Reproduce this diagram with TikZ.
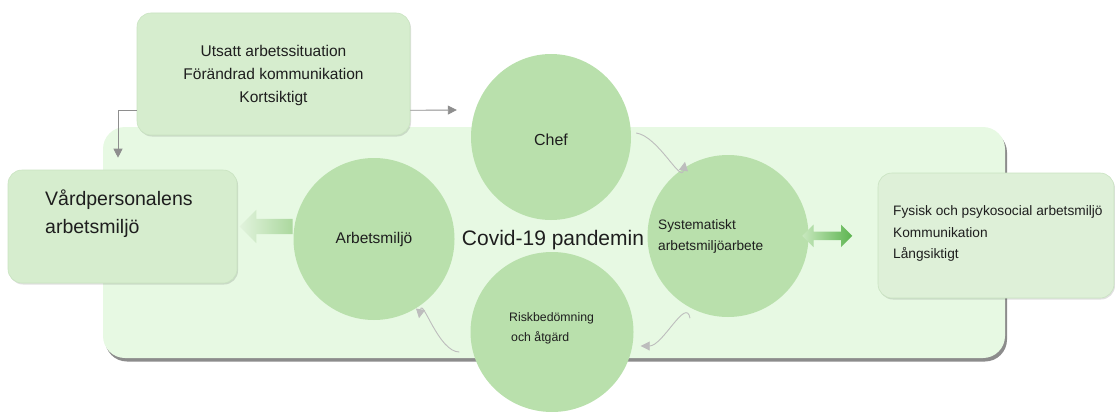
\documentclass[tikz,border=0pt]{standalone}
\usepackage{fontspec}
\setmainfont{Liberation Sans}
\usetikzlibrary{shapes.geometric,shapes.arrows,shadows,arrows.meta,calc}
\definecolor{bgc}{HTML}{E7F9E3}
\definecolor{boxc}{HTML}{D6EDCE}
\definecolor{boxline}{HTML}{C9E3C1}
\definecolor{rboxc}{HTML}{DEF0D8}
\definecolor{circc}{HTML}{B9E0AC}
\definecolor{txt}{HTML}{1E1E1E}
\definecolor{arrg}{HTML}{8E8E8E}
\definecolor{curg}{HTML}{BDBDBD}
\definecolor{fatlight}{HTML}{E2F3DD}
\definecolor{fatdark}{HTML}{ABD89E}
\definecolor{dbllight}{HTML}{C8E8BE}
\definecolor{dbldark}{HTML}{5CB44F}
\tikzset{
  panel/.style={draw=none, fill=bgc, rounded corners=22pt, inner sep=0pt,
    drop shadow={shadow xshift=2pt, shadow yshift=-3.5pt, fill=black, opacity=0.45}},
  gbox/.style={draw=boxline, line width=0.6pt, fill=boxc, rounded corners=14pt, inner sep=0pt,
    drop shadow={shadow xshift=1pt, shadow yshift=-1.5pt, fill=black, opacity=0.12}},
  bubble/.style={ellipse, fill=circc, draw=none, inner sep=0pt},
  lbl/.style={text=txt, inner sep=0pt},
  garr/.style={draw=arrg, line width=0.9pt, -{Triangle[length=9pt,width=9pt]}},
  carr/.style={draw=curg, line width=0.9pt, -{Triangle[length=9pt,width=9pt]}},
}
\begin{document}
\begin{tikzpicture}[x=1pt,y=-1pt]
\useasboundingbox (0,0) rectangle (1115,412);
% background panel
\node[panel, minimum width=902pt, minimum height=231pt] (bg) at (554,242.5) {};
% boxes
\node[gbox, minimum width=273pt, minimum height=122pt] (top) at (273.5,74) {};
\node[lbl, align=center, font=\fontsize{15.5}{23}\selectfont] (toptxt) at (273.5,75)
  {Utsatt arbetssituation\\Förändrad kommunikation\\Kortsiktigt};
\node[gbox, minimum width=229pt, minimum height=113pt] (vard) at (122.5,226.5) {};
\node[lbl, anchor=west, align=left, font=\fontsize{19.5}{28}\selectfont] (vardtxt) at (45,214)
  {Vårdpersonalens\\arbetsmiljö};
\node[gbox, fill=rboxc, minimum width=236pt, minimum height=125pt] (res) at (996,235.5) {};
\node[lbl, anchor=west, align=left, font=\fontsize{13.7}{21.5}\selectfont] (restxt) at (893,233.5)
  {Fysisk och psykosocial arbetsmiljö\\Kommunikation\\Långsiktigt};
% circles
\node[bubble, minimum width=160pt, minimum height=166pt] (chef) at (551,137) {};
\node[bubble, minimum width=161pt, minimum height=162pt] (arbc) at (374,239) {};
\node[bubble, minimum width=161pt, minimum height=162pt] (sys) at (728,236) {};
\node[bubble, minimum width=163pt, minimum height=160pt] (risk) at (552,332) {};
% circle texts
\node[lbl, font=\fontsize{16}{18}\selectfont] (cheftxt) at (551,140) {Chef};
\node[lbl, font=\fontsize{15.5}{18}\selectfont] (arbtxt) at (374,239) {Arbetsmiljö};
\node[lbl, anchor=west, align=left, font=\fontsize{13.7}{21}\selectfont] (systxt) at (658,236.5)
  {Systematiskt\\arbetsmiljöarbete};
\node[lbl, anchor=west, align=left, font=\fontsize{12.3}{20}\selectfont] (risktxt) at (509,328)
  {Riskbedömning\\\hspace*{2pt}och åtgärd};
\node[lbl, font=\fontsize{21}{24}\selectfont] (covid) at (553,240) {Covid-19 pandemin};
% gray elbow arrows
\draw[garr] ($(top.south west)+(0,-25)$) -| ($(vard.north)+(-4.5,-12)$);
\draw[garr] ($(top.south east)+(0,-25)$) -- ($(chef.west)+(-14,-27)$);
% curved cycle arrows
\draw[carr] ($(chef.east)+(5,-4)$) to[out=-8,in=-100] ($(sys.north)+(-43,7)$);
\draw[carr] ($(sys.south)+(-38,1)$) to[out=100,in=0] ($(risk.east)+(7,14)$);
\draw[carr] ($(risk.west)+(-11,20)$) to[out=180,in=80] ($(arbc.south)+(45,-2)$);
% fat arrows
\node[single arrow, shape border rotate=180, inner sep=7.5pt, single arrow head extend=9pt,
      minimum height=53pt, left color=fatlight, right color=fatdark, draw=none, anchor=tip]
      (fat) at ($(vard.east)+(2,0)$) {};
\node[double arrow, inner sep=4pt, double arrow head extend=7pt, minimum height=50pt,
      left color=dbllight, right color=dbldark, draw=none] (dbl) at ($(sys.east)!0.27!(res.west)$) {};
\end{tikzpicture}
\end{document}
